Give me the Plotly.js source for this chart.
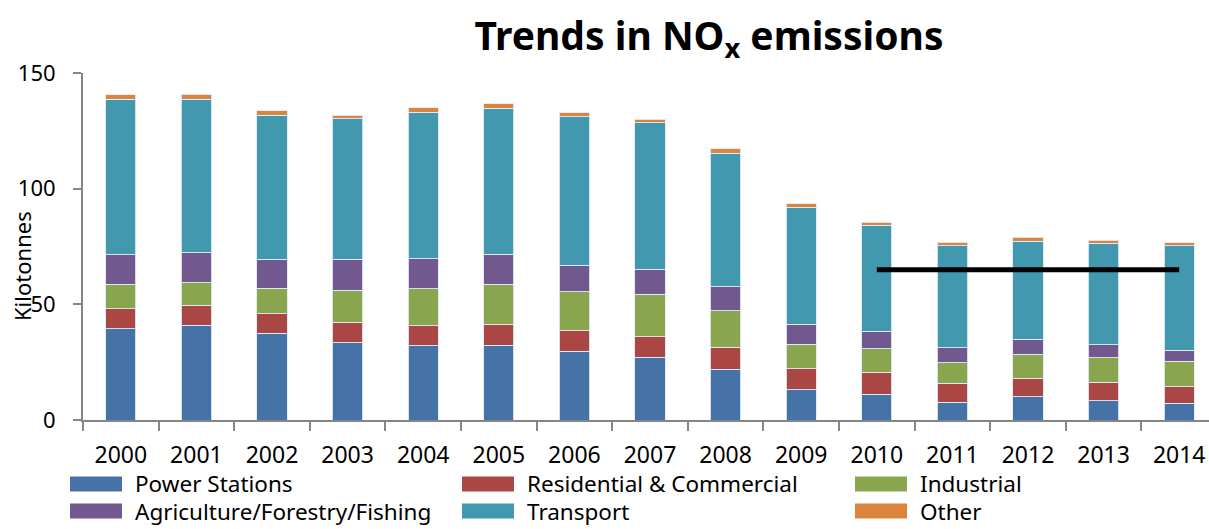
<!DOCTYPE html>
<html>
<head>
<meta charset="utf-8">
<script src="https://cdn.plot.ly/plotly-3.0.1.min.js"></script>
<style>
  html, body { margin: 0; padding: 0; background: #ffffff; }
  #chart { width: 1209px; height: 529px; }
</style>
</head>
<body>
<div id="chart"></div>
<script>
const years = ['2000','2001','2002','2003','2004','2005','2006','2007','2008','2009','2010','2011','2012','2013','2014'];
const seriesNames = ['Power Stations','Residential & Commercial','Industrial','Agriculture/Forestry/Fishing','Transport','Other'];
const powerStations = [39.5,41.0,37.4,33.5,32.0,32.3,29.7,27.1,21.9,13.1,11.1,7.6,10.0,8.4,7.2];
const residential   = [8.5,8.6,8.6,8.8,8.8,9.1,8.9,8.9,9.6,9.1,9.5,8.3,8.0,7.9,7.2];
const industrial    = [10.7,9.7,11.0,13.8,16.0,17.3,16.8,18.4,15.8,10.6,10.1,8.8,10.4,10.7,11.0];
const agriculture   = [12.8,13.1,12.4,13.3,13.0,13.0,11.5,10.8,10.4,8.6,7.7,6.6,6.5,5.6,4.8];
const transport     = [67.1,66.2,62.3,60.8,63.2,63.0,64.1,63.2,57.7,50.6,45.7,44.1,42.4,43.7,45.2];
const other         = [1.9,2.3,2.0,1.6,1.9,2.0,1.8,1.7,1.9,1.5,1.4,1.5,1.6,1.5,1.3];
const targetYears = ['2010','2014'];
const targetLevel = [65,65];
const yTicks = [0,50,100,150];

const colors = ['#4572A7','#AA4643','#89A54E','#71588F','#4198AF','#DB843D'];
const values = [powerStations, residential, industrial, agriculture, transport, other];

const FONT = 'Noto Sans, DejaVu Sans, sans-serif';

const traces = values.map((v, i) => ({
  type: 'bar',
  name: seriesNames[i],
  x: years,
  y: v,
  marker: { color: colors[i], line: { color: 'rgba(225,235,245,0.9)', width: 1 } },
  showlegend: false,
  hoverinfo: 'x+y+name'
}));

traces.push({
  type: 'scatter',
  mode: 'lines',
  x: targetYears,
  y: targetLevel,
  line: { color: '#000000', width: 5 },
  showlegend: false,
  hoverinfo: 'skip'
});

// plot area geometry (pixels)
const W = 1209, H = 529;
const L = 83, R = 0, T = 73, B = 109;
const PW = W - L - R, PH = H - T - B;
const catW = 75.6;
const px2x = px => (px - L) / PW;
const px2y = py => (H - B - py) / PH;

const shapes = [];
const annotations = [];

// manual legend: 3 columns x 2 rows
const colSwatchX = [70, 462, 855];
const rowCenterY = [484, 511];
seriesNames.forEach((name, i) => {
  const col = i % 3, row = Math.floor(i / 3);
  const sx = colSwatchX[col], cy = rowCenterY[row];
  shapes.push({
    type: 'rect', xref: 'paper', yref: 'paper',
    x0: px2x(sx), x1: px2x(sx + 52),
    y0: px2y(cy - 7.5), y1: px2y(cy + 7.5),
    fillcolor: colors[i], line: { width: 0 }, layer: 'above'
  });
  annotations.push({
    xref: 'paper', yref: 'paper',
    x: px2x(sx + 64), y: px2y(cy),
    xanchor: 'left', yanchor: 'middle',
    text: name, showarrow: false, borderpad: 0,
    font: { family: FONT, size: 22.5, color: '#000000' }
  });
});

// y axis title
annotations.push({
  xref: 'paper', yref: 'paper',
  x: px2x(22), y: px2y(266),
  xanchor: 'center', yanchor: 'middle',
  text: 'Kilotonnes', textangle: -90, showarrow: false,
  font: { family: FONT, size: 22, color: '#000000' }
});

const layout = {
  width: W, height: H,
  margin: { l: L, r: R, t: T, b: B, pad: 0 },
  paper_bgcolor: '#ffffff',
  plot_bgcolor: '#ffffff',
  barmode: 'stack',
  bargap: 0.6,
  showlegend: false,
  title: {
    text: 'Trends in NO<sub>x</sub> emissions',
    font: { family: FONT, size: 39, color: '#000000', weight: 'bold' },
    x: 709 / W, xanchor: 'center', xref: 'container',
    y: 1 - 36 / H, yanchor: 'middle', yref: 'container'
  },
  font: { family: FONT, color: '#000000' },
  xaxis: {
    type: 'category',
    range: [-0.5, -0.5 + PW / catW],
    tickson: 'boundaries',
    ticks: 'outside', ticklen: 9, tickwidth: 2, tickcolor: '#868686',
    showline: true, linecolor: '#868686', linewidth: 2,
    showgrid: false, zeroline: false,
    tickfont: { family: FONT, size: 23, color: '#000000' },
    ticklabelstandoff: 13,
    fixedrange: true
  },
  yaxis: {
    range: [0, 150],
    tickvals: yTicks,
    ticks: 'outside', ticklen: 8, tickwidth: 2, tickcolor: '#868686',
    showline: true, linecolor: '#868686', linewidth: 2,
    showgrid: false, zeroline: false,
    tickfont: { family: FONT, size: 22, color: '#000000' },
    ticklabelstandoff: 13,
    fixedrange: true
  },
  shapes: shapes,
  annotations: annotations
};

Plotly.newPlot('chart', traces, layout, { displayModeBar: false, staticPlot: true });
</script>
</body>
</html>
